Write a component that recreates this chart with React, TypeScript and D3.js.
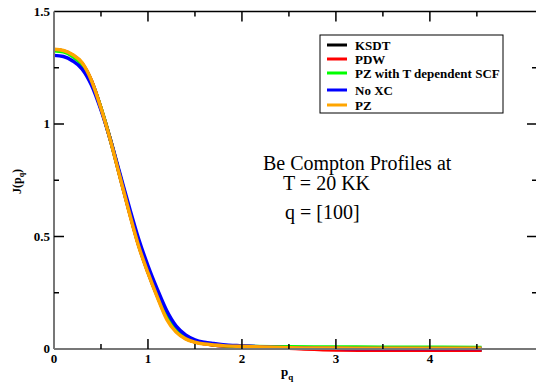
import React from "react";
import * as d3 from "d3";

const pGrid = [0, 0.1, 0.2, 0.3, 0.4, 0.5, 0.6, 0.7, 0.8, 0.9, 1.0, 1.1, 1.2, 1.3, 1.4, 1.5, 1.6, 1.7, 1.8, 2.0, 2.5, 3.0, 3.5, 4.0, 4.55];

const ksdt = [1.33, 1.325, 1.305, 1.268, 1.19, 1.07, 0.93, 0.77, 0.612, 0.462, 0.342, 0.235, 0.14, 0.08, 0.048, 0.032, 0.024, 0.018, 0.014, 0.01, 0.004, 0.0, -0.003, -0.004, -0.004];
const pdw = [1.33, 1.325, 1.305, 1.268, 1.19, 1.07, 0.93, 0.772, 0.614, 0.464, 0.344, 0.237, 0.142, 0.08, 0.048, 0.032, 0.024, 0.018, 0.014, 0.01, 0.003, -0.004, -0.006, -0.006, -0.006];
const pzT = [1.326, 1.321, 1.3, 1.262, 1.185, 1.07, 0.93, 0.775, 0.62, 0.472, 0.352, 0.246, 0.152, 0.089, 0.053, 0.035, 0.026, 0.02, 0.016, 0.012, 0.01, 0.009, 0.008, 0.008, 0.007];
const noXC = [1.305, 1.3, 1.28, 1.244, 1.172, 1.062, 0.93, 0.782, 0.632, 0.49, 0.37, 0.265, 0.17, 0.102, 0.063, 0.041, 0.03, 0.024, 0.019, 0.014, 0.006, 0.003, 0.002, 0.002, 0.002];
const pz = [1.332, 1.327, 1.308, 1.272, 1.192, 1.07, 0.928, 0.768, 0.608, 0.458, 0.338, 0.23, 0.132, 0.075, 0.045, 0.03, 0.022, 0.018, 0.015, 0.012, 0.006, 0.004, 0.003, 0.003, 0.003];

const seriesNames = ["KSDT", "PDW", "PZ with T dependent SCF", "No XC", "PZ"];
const seriesColors = ["#000000", "#ff0000", "#00ff00", "#0000ff", "#ffa500"];
const seriesValues = [ksdt, pdw, pzT, noXC, pz];

const xMajorTicks = [0, 1, 2, 3, 4];
const xMinorTicks = [0.5, 1.5, 2.5, 3.5, 4.5];
const yMajorTicks = [0, 0.5, 1, 1.5];
const yMinorTicks = [0.25, 0.75, 1.25];
const yTickLabels = ["0", "0.5", "1", "1.5"];

const annotation = ["Be Compton Profiles at", "T = 20 KK", "q = [100]"];

export default function App() {
  const W = 536, H = 383;
  const x = d3.scaleLinear().domain([0, 5.14]).range([54, 537]);
  const y = d3.scaleLinear().domain([0, 1.5]).range([349, 11.5]);
  const line = d3
    .line<[number, number]>()
    .x((d) => x(d[0]))
    .y((d) => y(d[1]))
    .curve(d3.curveMonotoneX);

  const left = x(0), right = x.range()[1], top = y(1.5), bottom = y(0);
  const serif = { fontFamily: "Liberation Serif, Times New Roman, serif" };
  const bold = { ...serif, fontWeight: 700 as const };

  const legendX = 320, legendY = 35;
  const legendRows = [45, 59, 73, 90, 105];

  return (
    <svg width={W} height={H} style={{ position: "absolute", left: 0, top: 0, background: "#fff" }}>
      <rect x={0} y={0} width={W} height={H} fill="#fff" />
      {seriesValues.map((vals, i) => (
        <path
          key={i}
          d={line(pGrid.map((p, j) => [p, vals[j]] as [number, number])) || ""}
          fill="none"
          stroke={seriesColors[i]}
          strokeWidth={3.5}
          strokeLinejoin="round"
        />
      ))}
      {/* frame */}
      <line x1={left} y1={top} x2={right} y2={top} stroke="#000" strokeWidth={1.5} />
      <line x1={right} y1={top} x2={right} y2={bottom} stroke="#000" strokeWidth={1.5} />
      <line x1={left} y1={bottom} x2={right} y2={bottom} stroke="#777" strokeWidth={2} />
      <line x1={left} y1={top} x2={left} y2={bottom} stroke="#777" strokeWidth={2} />
      {/* x ticks */}
      {xMajorTicks.map((t) => (
        <g key={"xm" + t}>
          {t > 0 && <line x1={x(t)} x2={x(t)} y1={bottom} y2={bottom - 10} stroke="#000" strokeWidth={1.5} />}
          {t > 0 && <line x1={x(t)} x2={x(t)} y1={top} y2={top + 10} stroke="#000" strokeWidth={1.5} />}
          <text x={x(t)} y={bottom + 14} textAnchor="middle" style={bold} fontSize={13}>
            {t}
          </text>
        </g>
      ))}
      {xMinorTicks.map((t) => (
        <g key={"xn" + t}>
          <line x1={x(t)} x2={x(t)} y1={bottom} y2={bottom - 5} stroke="#000" strokeWidth={1.5} />
          <line x1={x(t)} x2={x(t)} y1={top} y2={top + 5} stroke="#000" strokeWidth={1.5} />
        </g>
      ))}
      {/* y ticks */}
      {yMajorTicks.map((t, i) => (
        <g key={"ym" + t}>
          {t > 0 && t < 1.5 && <line x1={left} x2={left + 10} y1={y(t)} y2={y(t)} stroke="#000" strokeWidth={1.5} />}
          {t > 0 && t < 1.5 && <line x1={right} x2={right - 10} y1={y(t)} y2={y(t)} stroke="#000" strokeWidth={1.5} />}
          <text x={left - 4} y={y(t) + 4} textAnchor="end" style={bold} fontSize={13}>
            {yTickLabels[i]}
          </text>
        </g>
      ))}
      {yMinorTicks.map((t) => (
        <g key={"yn" + t}>
          <line x1={left} x2={left + 5} y1={y(t)} y2={y(t)} stroke="#000" strokeWidth={1.5} />
          <line x1={right} x2={right - 5} y1={y(t)} y2={y(t)} stroke="#000" strokeWidth={1.5} />
        </g>
      ))}
      {/* axis labels */}
      <text x={281} y={376} style={bold} fontSize={13}>
        p<tspan fontSize={9} dy={4}>q</tspan>
      </text>
      <text transform="translate(21,194) rotate(-90)" style={bold} fontSize={12}>
        J(p<tspan fontSize={8} dy={3}>q</tspan><tspan dy={-3}>)</tspan>
      </text>
      {/* legend */}
      <rect x={legendX} y={legendY} width={183} height={78} fill="#fff" stroke="#000" strokeWidth={1} />
      {seriesNames.map((n, i) => (
        <g key={n}>
          <line x1={327} x2={347} y1={legendRows[i]} y2={legendRows[i]} stroke={seriesColors[i]} strokeWidth={3} />
          <text x={355} y={legendRows[i] + 4.5} style={bold} fontSize={13}>
            {n}
          </text>
        </g>
      ))}
      {/* annotation */}
      <text x={263} y={170} style={serif} fontSize={20}>{annotation[0]}</text>
      <text x={283} y={190} style={serif} fontSize={20}>{annotation[1]}</text>
      <text x={285} y={219} style={serif} fontSize={20}>{annotation[2]}</text>
    </svg>
  );
}
